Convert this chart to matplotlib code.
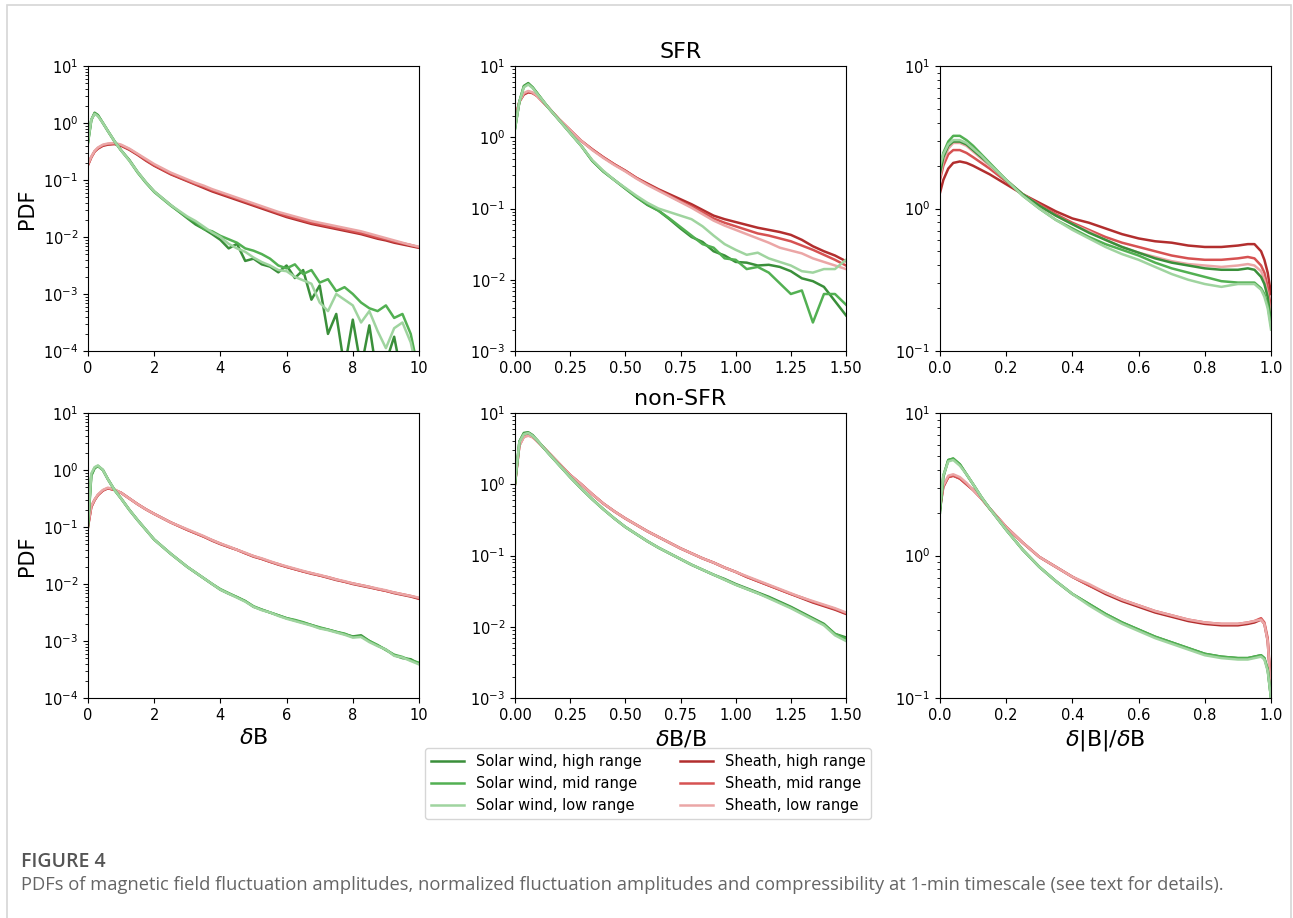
import numpy as np
import matplotlib
matplotlib.use("Agg")
import matplotlib.pyplot as plt
from matplotlib.patches import Rectangle
from matplotlib.lines import Line2D

# ---- data (log10 of PDF) ----
x_dB = [0, 0.1, 0.2, 0.3, 0.45, 0.6, 0.8, 1.0, 1.25, 1.5, 1.75, 2.0, 2.5, 3.0, 3.25, 3.5,
        3.75, 4.0, 4.25, 4.5, 4.75, 5.0, 5.25, 5.5, 5.75, 6.0, 6.25, 6.5, 6.75, 7.0, 7.25,
        7.5, 7.75, 8.0, 8.25, 8.5, 8.75, 9.0, 9.25, 9.5, 9.75, 10.0]
x_dBB = [0, 0.02, 0.04, 0.06, 0.08, 0.1, 0.125, 0.15, 0.2, 0.25, 0.3, 0.35, 0.4, 0.45, 0.5,
         0.55, 0.6, 0.65, 0.7, 0.75, 0.8, 0.85, 0.9, 0.95, 1.0, 1.05, 1.1, 1.15, 1.2, 1.25,
         1.3, 1.35, 1.4, 1.45, 1.5]
x_comp = [0, 0.01, 0.025, 0.04, 0.06, 0.08, 0.1, 0.125, 0.15, 0.2, 0.25, 0.3, 0.35, 0.4,
          0.45, 0.5, 0.55, 0.6, 0.65, 0.7, 0.75, 0.8, 0.85, 0.9, 0.93, 0.95, 0.97, 0.98,
          0.99, 1.0]

# SFR, dB
sfr_dB_sw_hi = [-0.35, 0.05, 0.18, 0.14, 0.0, -0.14, -0.32, -0.48, -0.65, -0.86, -1.04, -1.2,
                -1.44, -1.67, -1.78, -1.86, -1.95, -2.05, -2.2, -2.12, -2.42, -2.38, -2.48,
                -2.52, -2.62, -2.5, -2.72, -2.58, -3.1, -2.85, -3.7, -3.35, -4.3, -3.45,
                -4.3, -3.55, -4.5, -4.2, -3.75, -4.5, -4.3, -5.0]
sfr_dB_sw_mid = [-0.33, 0.06, 0.17, 0.13, 0.0, -0.14, -0.32, -0.48, -0.66, -0.87, -1.05, -1.21,
                 -1.45, -1.66, -1.74, -1.86, -1.9, -1.98, -2.04, -2.1, -2.2, -2.24, -2.3,
                 -2.38, -2.5, -2.55, -2.48, -2.65, -2.58, -2.8, -2.74, -2.95, -2.88, -3.0,
                 -3.15, -3.25, -3.3, -3.2, -3.42, -3.35, -3.7, -4.4]
sfr_dB_sw_lo = [-0.32, 0.06, 0.16, 0.12, 0.0, -0.14, -0.32, -0.48, -0.66, -0.86, -1.04, -1.2,
                -1.44, -1.64, -1.72, -1.82, -1.92, -2.0, -2.12, -2.2, -2.26, -2.36, -2.44,
                -2.5, -2.58, -2.6, -2.7, -2.76, -2.82, -3.15, -3.3, -3.0, -3.1, -3.2, -3.5,
                -3.3, -3.65, -3.95, -3.6, -3.5, -3.85, -4.5]
sfr_dB_sh_hi = [-0.74, -0.6, -0.5, -0.45, -0.4, -0.38, -0.37, -0.4, -0.47, -0.56, -0.66, -0.75,
                -0.9, -1.02, -1.08, -1.14, -1.2, -1.25, -1.3, -1.35, -1.4, -1.45, -1.5, -1.55,
                -1.6, -1.65, -1.69, -1.73, -1.77, -1.8, -1.83, -1.86, -1.89, -1.92, -1.95,
                -1.99, -2.03, -2.06, -2.1, -2.13, -2.16, -2.19]
sfr_dB_sh_mid = [-0.73, -0.6, -0.5, -0.44, -0.39, -0.37, -0.36, -0.39, -0.46, -0.55, -0.65,
                 -0.74, -0.89, -1.01, -1.07, -1.12, -1.18, -1.23, -1.28, -1.33, -1.38, -1.43,
                 -1.48, -1.53, -1.58, -1.63, -1.67, -1.71, -1.75, -1.78, -1.81, -1.84, -1.87,
                 -1.9, -1.93, -1.97, -2.01, -2.04, -2.08, -2.11, -2.14, -2.18]
sfr_dB_sh_lo = [-0.72, -0.59, -0.49, -0.43, -0.38, -0.36, -0.35, -0.38, -0.45, -0.54, -0.63,
                -0.72, -0.87, -0.99, -1.05, -1.1, -1.16, -1.21, -1.26, -1.31, -1.36, -1.41,
                -1.46, -1.51, -1.56, -1.6, -1.64, -1.68, -1.72, -1.75, -1.78, -1.81, -1.84,
                -1.87, -1.9, -1.94, -1.98, -2.02, -2.06, -2.1, -2.14, -2.17]

# SFR, dB/B
sfr_dBB_sw_hi = [0.12, 0.5, 0.72, 0.76, 0.7, 0.62, 0.52, 0.42, 0.24, 0.06, -0.12, -0.33, -0.48,
                 -0.6, -0.72, -0.84, -0.95, -1.03, -1.15, -1.28, -1.4, -1.47, -1.6, -1.66,
                 -1.75, -1.76, -1.8, -1.79, -1.82, -1.88, -1.98, -2.02, -2.1, -2.3, -2.5]
sfr_dBB_sw_mid = [0.12, 0.5, 0.71, 0.75, 0.7, 0.62, 0.52, 0.42, 0.24, 0.06, -0.12, -0.33, -0.48,
                  -0.6, -0.72, -0.84, -0.94, -1.03, -1.14, -1.26, -1.38, -1.5, -1.55, -1.7,
                  -1.72, -1.85, -1.82, -1.9, -2.05, -2.2, -2.15, -2.6, -2.2, -2.2, -2.35]
sfr_dBB_sw_lo = [0.13, 0.5, 0.7, 0.74, 0.69, 0.61, 0.52, 0.42, 0.24, 0.06, -0.12, -0.32, -0.47,
                 -0.6, -0.71, -0.82, -0.92, -1.0, -1.05, -1.1, -1.15, -1.25, -1.38, -1.5,
                 -1.58, -1.65, -1.62, -1.7, -1.75, -1.8, -1.88, -1.9, -1.85, -1.85, -1.72]
sfr_dBB_sh_hi = [0.25, 0.5, 0.6, 0.63, 0.62, 0.58, 0.5, 0.42, 0.25, 0.1, -0.05, -0.17, -0.28,
                 -0.38, -0.47, -0.57, -0.65, -0.73, -0.8, -0.87, -0.94, -1.02, -1.1, -1.15,
                 -1.19, -1.23, -1.27, -1.3, -1.33, -1.37, -1.44, -1.53, -1.6, -1.66, -1.74]
sfr_dBB_sh_mid = [0.24, 0.5, 0.61, 0.64, 0.62, 0.58, 0.5, 0.42, 0.25, 0.1, -0.05, -0.17, -0.28,
                  -0.38, -0.47, -0.57, -0.66, -0.74, -0.82, -0.9, -0.97, -1.05, -1.14, -1.2,
                  -1.25, -1.3, -1.35, -1.38, -1.42, -1.46, -1.52, -1.58, -1.65, -1.72, -1.8]
sfr_dBB_sh_lo = [0.23, 0.5, 0.62, 0.65, 0.63, 0.58, 0.5, 0.42, 0.25, 0.1, -0.05, -0.18, -0.29,
                 -0.39, -0.48, -0.58, -0.67, -0.75, -0.83, -0.91, -0.99, -1.08, -1.17, -1.24,
                 -1.3, -1.36, -1.42, -1.48, -1.55, -1.59, -1.63, -1.7, -1.75, -1.8, -1.85]

# SFR, d|B|/dB
sfr_comp_sw_hi = [0.25, 0.36, 0.44, 0.47, 0.47, 0.45, 0.41, 0.36, 0.31, 0.2, 0.1, 0.02, -0.05,
                  -0.11, -0.17, -0.22, -0.27, -0.31, -0.35, -0.38, -0.4, -0.42, -0.43, -0.43,
                  -0.42, -0.43, -0.48, -0.53, -0.62, -0.8]
sfr_comp_sw_mid = [0.28, 0.39, 0.47, 0.51, 0.51, 0.48, 0.44, 0.38, 0.32, 0.2, 0.09, 0.0,
                   -0.08, -0.14, -0.2, -0.25, -0.29, -0.33, -0.38, -0.42, -0.45, -0.48, -0.51,
                   -0.52, -0.52, -0.52, -0.56, -0.6, -0.68, -0.82]
sfr_comp_sw_lo = [0.3, 0.38, 0.45, 0.48, 0.48, 0.46, 0.42, 0.37, 0.31, 0.2, 0.09, 0.0, -0.08,
                  -0.15, -0.21, -0.27, -0.32, -0.36, -0.41, -0.46, -0.5, -0.53, -0.55, -0.53,
                  -0.53, -0.53, -0.57, -0.62, -0.7, -0.85]
sfr_comp_sh_hi = [0.11, 0.2, 0.28, 0.32, 0.33, 0.32, 0.3, 0.27, 0.24, 0.17, 0.1, 0.04, -0.02,
                  -0.07, -0.1, -0.14, -0.18, -0.21, -0.23, -0.24, -0.26, -0.27, -0.27, -0.26,
                  -0.25, -0.25, -0.3, -0.36, -0.45, -0.6]
sfr_comp_sh_mid = [0.2, 0.3, 0.38, 0.41, 0.41, 0.39, 0.36, 0.32, 0.28, 0.19, 0.1, 0.03, -0.04,
                   -0.1, -0.15, -0.2, -0.24, -0.27, -0.3, -0.33, -0.35, -0.36, -0.36, -0.35,
                   -0.34, -0.35, -0.4, -0.45, -0.55, -0.7]
sfr_comp_sh_lo = [0.22, 0.33, 0.42, 0.46, 0.46, 0.44, 0.4, 0.35, 0.3, 0.2, 0.1, 0.02, -0.05,
                  -0.11, -0.16, -0.22, -0.27, -0.31, -0.34, -0.37, -0.39, -0.4, -0.41, -0.4,
                  -0.39, -0.4, -0.44, -0.5, -0.6, -0.75]

# non-SFR, dB
nsfr_dB_sw_hi = [-1.0, -0.1, 0.03, 0.07, 0.0, -0.16, -0.35, -0.5, -0.7, -0.88, -1.05, -1.22,
                 -1.47, -1.7, -1.8, -1.9, -2.0, -2.1, -2.17, -2.23, -2.3, -2.4, -2.45, -2.5,
                 -2.55, -2.6, -2.64, -2.68, -2.72, -2.77, -2.8, -2.84, -2.88, -2.92, -2.9,
                 -3.0, -3.08, -3.15, -3.25, -3.3, -3.32, -3.4]
nsfr_dB_sw_mid = [-0.95, -0.08, 0.04, 0.07, 0.0, -0.16, -0.35, -0.5, -0.7, -0.88, -1.05, -1.22,
                  -1.47, -1.7, -1.8, -1.9, -2.0, -2.09, -2.16, -2.23, -2.3, -2.39, -2.45,
                  -2.5, -2.55, -2.6, -2.63, -2.67, -2.72, -2.76, -2.8, -2.84, -2.87, -2.93,
                  -2.92, -3.0, -3.07, -3.16, -3.24, -3.28, -3.34, -3.38]
nsfr_dB_sw_lo = [-0.9, -0.06, 0.05, 0.08, 0.0, -0.16, -0.35, -0.5, -0.7, -0.88, -1.05, -1.22,
                 -1.47, -1.7, -1.8, -1.9, -2.0, -2.1, -2.17, -2.24, -2.31, -2.4, -2.46, -2.5,
                 -2.56, -2.61, -2.65, -2.69, -2.73, -2.78, -2.81, -2.85, -2.89, -2.94, -2.93,
                 -3.02, -3.09, -3.15, -3.26, -3.29, -3.35, -3.41]
nsfr_dB_sh_hi = [-1.0, -0.65, -0.53, -0.44, -0.36, -0.32, -0.35, -0.4, -0.5, -0.6, -0.69, -0.77,
                 -0.92, -1.05, -1.11, -1.17, -1.24, -1.3, -1.35, -1.4, -1.46, -1.52, -1.56,
                 -1.61, -1.66, -1.7, -1.74, -1.78, -1.82, -1.85, -1.89, -1.93, -1.96, -2.0,
                 -2.03, -2.06, -2.09, -2.12, -2.16, -2.19, -2.22, -2.26]
nsfr_dB_sh_mid = [-0.98, -0.64, -0.52, -0.44, -0.36, -0.32, -0.35, -0.4, -0.5, -0.6, -0.69,
                  -0.77, -0.92, -1.05, -1.11, -1.17, -1.23, -1.29, -1.35, -1.4, -1.46, -1.51,
                  -1.56, -1.61, -1.65, -1.7, -1.74, -1.78, -1.81, -1.85, -1.88, -1.92, -1.96,
                  -1.99, -2.02, -2.05, -2.09, -2.12, -2.15, -2.18, -2.21, -2.25]
nsfr_dB_sh_lo = [-0.96, -0.63, -0.52, -0.43, -0.35, -0.31, -0.34, -0.4, -0.5, -0.6, -0.69,
                 -0.77, -0.92, -1.04, -1.1, -1.16, -1.23, -1.29, -1.34, -1.4, -1.45, -1.51,
                 -1.55, -1.6, -1.65, -1.69, -1.73, -1.77, -1.81, -1.84, -1.88, -1.92, -1.95,
                 -1.99, -2.02, -2.05, -2.08, -2.11, -2.15, -2.18, -2.21, -2.24]

# non-SFR, dB/B
nsfr_dBB_sw_hi = [0.0, 0.6, 0.72, 0.73, 0.69, 0.62, 0.53, 0.44, 0.27, 0.1, -0.06, -0.21, -0.35,
                  -0.48, -0.6, -0.7, -0.8, -0.89, -0.97, -1.05, -1.13, -1.2, -1.27, -1.33,
                  -1.4, -1.46, -1.52, -1.58, -1.65, -1.72, -1.8, -1.88, -1.96, -2.1, -2.15]
nsfr_dBB_sw_mid = [0.02, 0.6, 0.71, 0.72, 0.68, 0.62, 0.53, 0.44, 0.27, 0.1, -0.06, -0.21,
                   -0.35, -0.48, -0.6, -0.7, -0.8, -0.89, -0.97, -1.05, -1.13, -1.2, -1.27,
                   -1.34, -1.41, -1.47, -1.53, -1.59, -1.66, -1.73, -1.81, -1.89, -1.97, -2.1,
                   -2.17]
nsfr_dBB_sw_lo = [0.03, 0.59, 0.7, 0.72, 0.68, 0.62, 0.53, 0.44, 0.27, 0.1, -0.06, -0.21,
                  -0.35, -0.48, -0.6, -0.7, -0.8, -0.89, -0.97, -1.05, -1.13, -1.2, -1.27,
                  -1.34, -1.41, -1.47, -1.53, -1.6, -1.67, -1.74, -1.82, -1.9, -1.98, -2.12,
                  -2.2]
nsfr_dBB_sh_hi = [0.0, 0.55, 0.67, 0.69, 0.67, 0.61, 0.53, 0.45, 0.29, 0.13, 0.0, -0.14, -0.27,
                  -0.38, -0.48, -0.57, -0.66, -0.74, -0.82, -0.9, -0.97, -1.04, -1.1, -1.17,
                  -1.23, -1.3, -1.36, -1.42, -1.48, -1.54, -1.6, -1.66, -1.71, -1.76, -1.82]
nsfr_dBB_sh_mid = [0.02, 0.55, 0.67, 0.69, 0.66, 0.61, 0.53, 0.45, 0.29, 0.13, 0.0, -0.14,
                   -0.27, -0.38, -0.48, -0.57, -0.66, -0.74, -0.82, -0.9, -0.97, -1.04, -1.1,
                   -1.17, -1.23, -1.3, -1.36, -1.42, -1.48, -1.54, -1.59, -1.65, -1.7, -1.75,
                   -1.81]
nsfr_dBB_sh_lo = [0.03, 0.54, 0.66, 0.68, 0.66, 0.6, 0.53, 0.45, 0.29, 0.13, 0.0, -0.14, -0.27,
                  -0.38, -0.48, -0.57, -0.66, -0.74, -0.82, -0.9, -0.97, -1.04, -1.1, -1.17,
                  -1.23, -1.29, -1.35, -1.41, -1.47, -1.53, -1.59, -1.64, -1.69, -1.74, -1.8]

# non-SFR, d|B|/dB
nsfr_comp_sw_hi = [0.3, 0.55, 0.67, 0.68, 0.64, 0.57, 0.5, 0.41, 0.33, 0.18, 0.04, -0.08,
                   -0.18, -0.27, -0.34, -0.41, -0.47, -0.52, -0.57, -0.61, -0.65, -0.69, -0.71,
                   -0.72, -0.72, -0.71, -0.7, -0.72, -0.8, -1.0]
nsfr_comp_sw_mid = [0.32, 0.56, 0.67, 0.68, 0.64, 0.57, 0.5, 0.41, 0.33, 0.18, 0.04, -0.08,
                    -0.18, -0.27, -0.34, -0.41, -0.47, -0.52, -0.57, -0.61, -0.65, -0.69,
                    -0.71, -0.72, -0.72, -0.71, -0.7, -0.72, -0.8, -1.0]
nsfr_comp_sw_lo = [0.34, 0.56, 0.66, 0.67, 0.63, 0.57, 0.5, 0.41, 0.33, 0.18, 0.04, -0.08,
                   -0.18, -0.27, -0.35, -0.42, -0.48, -0.53, -0.58, -0.62, -0.66, -0.7, -0.72,
                   -0.73, -0.73, -0.72, -0.71, -0.73, -0.81, -1.0]
nsfr_comp_sh_hi = [0.33, 0.48, 0.55, 0.56, 0.54, 0.5, 0.46, 0.4, 0.33, 0.2, 0.09, -0.01, -0.08,
                   -0.15, -0.21, -0.27, -0.32, -0.36, -0.4, -0.43, -0.46, -0.48, -0.49, -0.49,
                   -0.48, -0.47, -0.45, -0.48, -0.6, -0.95]
nsfr_comp_sh_mid = [0.34, 0.49, 0.55, 0.56, 0.54, 0.5, 0.46, 0.4, 0.33, 0.2, 0.09, -0.01,
                    -0.08, -0.15, -0.21, -0.26, -0.31, -0.35, -0.39, -0.42, -0.45, -0.47, -0.48,
                    -0.48, -0.47, -0.46, -0.44, -0.47, -0.58, -0.93]
nsfr_comp_sh_lo = [0.35, 0.49, 0.56, 0.57, 0.55, 0.51, 0.46, 0.4, 0.33, 0.2, 0.09, -0.01,
                   -0.08, -0.15, -0.2, -0.26, -0.31, -0.35, -0.39, -0.42, -0.45, -0.47, -0.48,
                   -0.48, -0.47, -0.46, -0.45, -0.48, -0.6, -0.96]

labels = ["Solar wind, high range", "Solar wind, mid range", "Solar wind, low range",
          "Sheath, high range", "Sheath, mid range", "Sheath, low range"]
colors = ["#3a8f3a", "#52b052", "#9fd49f", "#b22e2e", "#d65252", "#eba6a6"]

panels = [
    (x_dB, [sfr_dB_sw_hi, sfr_dB_sw_mid, sfr_dB_sw_lo, sfr_dB_sh_hi, sfr_dB_sh_mid, sfr_dB_sh_lo]),
    (x_dBB, [sfr_dBB_sw_hi, sfr_dBB_sw_mid, sfr_dBB_sw_lo, sfr_dBB_sh_hi, sfr_dBB_sh_mid, sfr_dBB_sh_lo]),
    (x_comp, [sfr_comp_sw_hi, sfr_comp_sw_mid, sfr_comp_sw_lo, sfr_comp_sh_hi, sfr_comp_sh_mid, sfr_comp_sh_lo]),
    (x_dB, [nsfr_dB_sw_hi, nsfr_dB_sw_mid, nsfr_dB_sw_lo, nsfr_dB_sh_hi, nsfr_dB_sh_mid, nsfr_dB_sh_lo]),
    (x_dBB, [nsfr_dBB_sw_hi, nsfr_dBB_sw_mid, nsfr_dBB_sw_lo, nsfr_dBB_sh_hi, nsfr_dBB_sh_mid, nsfr_dBB_sh_lo]),
    (x_comp, [nsfr_comp_sw_hi, nsfr_comp_sw_mid, nsfr_comp_sw_lo, nsfr_comp_sh_hi, nsfr_comp_sh_mid, nsfr_comp_sh_lo]),
]

xlims = [(0, 10), (0, 1.5), (0, 1)]
ylims = [(1e-4, 1e1), (1e-3, 1e1), (1e-1, 1e1)]
xticks = [np.arange(0, 11, 2), np.arange(0, 1.51, 0.25), np.arange(0, 1.01, 0.2)]
xfmt = ["{:.0f}", "{:.2f}", "{:.1f}"]
xlabels = [r"$\delta$B", r"$\delta$B/B", r"$\delta$|B|/$\delta$B"]

W, H = 1293, 918
fig = plt.figure(figsize=(W / 100, H / 100), dpi=100)

lefts = [88, 515, 940]
tops = [66, 413]
aw, ah = 331, 285

axes = []
for r in range(2):
    for c in range(3):
        ax = fig.add_axes([lefts[c] / W, 1 - (tops[r] + ah) / H, aw / W, ah / H])
        x, series = panels[r * 3 + c]
        # sheath first, solar wind on top
        for k in [3, 4, 5, 0, 1, 2]:
            ax.plot(x, np.power(10.0, series[k]), color=colors[k], lw=1.8)
        ax.set_yscale("log")
        ax.set_xlim(*xlims[c])
        ax.set_ylim(*ylims[c])
        ax.set_xticks(xticks[c])
        ax.set_xticklabels([xfmt[c].format(v) for v in xticks[c]])
        ax.tick_params(labelsize=10.5)
        if c == 0:
            ax.set_ylabel("PDF", fontsize=15)
        if r == 1:
            ax.set_xlabel(xlabels[c], fontsize=16)
        axes.append(ax)

axes[1].set_title("SFR", fontsize=16)
axes[4].set_title("non-SFR", fontsize=16)

handles = [Line2D([], [], color=colors[k], lw=1.8) for k in range(6)]
fig.legend(handles, labels, ncol=2, loc="upper left", fontsize=10.5,
           bbox_to_anchor=(425 / W, 1 - 748 / H), borderaxespad=0,
           handlelength=2.3, columnspacing=2.6)

# outer frame and caption
fig.patches.append(Rectangle((7 / W, -0.02), (1291 - 7) / W, 1.02 - 5 / H,
                             transform=fig.transFigure, fill=False,
                             edgecolor="#d6d6d6", lw=1.2))
fig.text(21 / W, 1 - 862 / H, "FIGURE 4", family="Open Sans", fontsize=14,
         color="#555555", va="center", weight="semibold")
fig.text(21 / W, 1 - 885 / H,
         "PDFs of magnetic field fluctuation amplitudes, normalized fluctuation amplitudes "
         "and compressibility at 1-min timescale (see text for details).",
         family="Open Sans", fontsize=13.2, color="#666666", va="center")

fig.savefig("out.png", dpi=100)
